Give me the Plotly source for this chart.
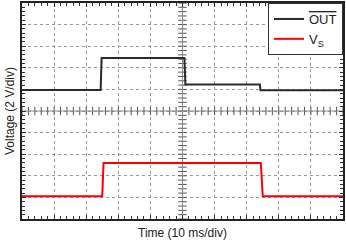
import plotly.graph_objects as go
import numpy as np

# Data (time in ms, voltage in V)
out_t = [0, 24.5, 24.8, 50.6, 50.9, 74.1, 74.3, 100]
out_v = [1.95, 1.95, 4.9, 4.9, 2.45, 2.45, 1.93, 1.93]
vs_t = [0, 25.0, 25.4, 74.4, 75.0, 100]
vs_v = [-7.9, -7.9, -4.82, -4.82, -7.9, -7.9]

x_range = [0, 100]
y_range = [-10, 10]
x_div = 10
y_div = 2

fig = go.Figure()

# center-line tick marks
cx = np.arange(0, 100.01, x_div / 5)
cy = np.arange(-10, 10.01, y_div / 5)
fig.add_trace(go.Scatter(x=cx, y=[0] * len(cx), mode="markers",
                         marker=dict(symbol="line-ns-open", size=6, color="#555", line=dict(width=1, color="#555")),
                         showlegend=False, hoverinfo="skip"))
fig.add_trace(go.Scatter(x=[50] * len(cy), y=cy, mode="markers",
                         marker=dict(symbol="line-ew-open", size=6, color="#555", line=dict(width=1, color="#555")),
                         showlegend=False, hoverinfo="skip"))
fig.add_trace(go.Scatter(x=x_range, y=[0, 0], mode="lines", line=dict(color="#888", width=1),
                         showlegend=False, hoverinfo="skip"))
fig.add_trace(go.Scatter(x=[50, 50], y=y_range, mode="lines", line=dict(color="#888", width=1),
                         showlegend=False, hoverinfo="skip"))

fig.add_trace(go.Scatter(x=out_t, y=out_v, mode="lines", name="<span style='text-decoration:overline'>OUT</span>",
                         line=dict(color="#2a2a2a", width=2)))
fig.add_trace(go.Scatter(x=vs_t, y=vs_v, mode="lines", name="V<sub>S</sub>",
                         line=dict(color="#ff0000", width=2)))

axis_common = dict(showticklabels=False, ticks="inside", ticklen=4, tickcolor="#333",
                   showline=True, linecolor="#222", linewidth=2, mirror="allticks",
                   showgrid=True, gridcolor="#999", griddash="dot", gridwidth=1,
                   zeroline=False, fixedrange=True)

fig.update_xaxes(range=x_range, dtick=x_div, tick0=0,
                 minor=dict(dtick=x_div / 5, ticks="inside", ticklen=3, tickcolor="#333", showgrid=False),
                 title=dict(text="Time (10 ms/div)", font=dict(size=12, color="#222"), standoff=9),
                 **axis_common)
fig.update_yaxes(range=y_range, dtick=y_div, tick0=0,
                 minor=dict(dtick=y_div / 5, ticks="inside", ticklen=3, tickcolor="#333", showgrid=False),
                 title=dict(text="Voltage (2 V/div)", font=dict(size=12, color="#222"), standoff=3),
                 **axis_common)

fig.update_layout(
    width=346, height=240,
    margin=dict(l=22, r=1, t=1, b=21),
    paper_bgcolor="white", plot_bgcolor="white",
    font=dict(family="Liberation Sans, Arial, sans-serif", size=12, color="#222"),
    legend=dict(x=1, y=1, xanchor="right", yanchor="top", bgcolor="white",
                bordercolor="#333", borderwidth=1, font=dict(size=13),
                itemwidth=30),
)

fig.write_html("out.html")
